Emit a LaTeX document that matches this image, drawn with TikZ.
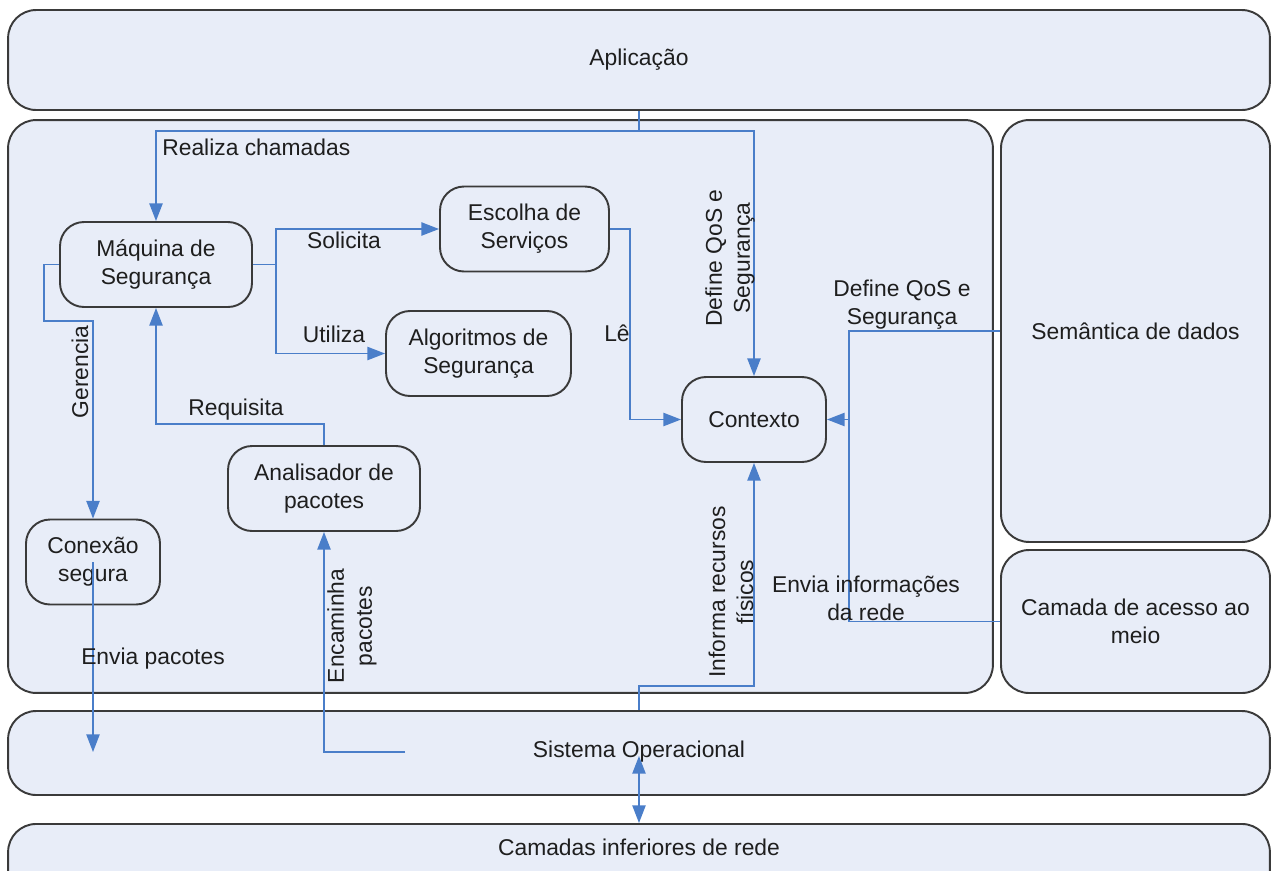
\documentclass[tikz,border=0pt]{standalone}
\usepackage{fontspec}
\setmainfont{Liberation Sans}
\usepackage{tikz}
\usetikzlibrary{arrows.meta,positioning,calc}
\definecolor{pfill}{HTML}{E8EDF8}
\definecolor{pline}{HTML}{3A3A3A}
\definecolor{pblued}{HTML}{4A7EC9}
\definecolor{ptext}{HTML}{1E1E1E}
\tikzset{
  % big layer boxes and the rounded process boxes
  layer/.style = {rectangle, rounded corners=0.56cm, draw=pline, fill=pfill, line width=1.1pt,
                  align=center, inner sep=0pt, text=ptext},
  proc/.style  = {rectangle, rounded corners=0.48cm, draw=pline, fill=pfill, line width=1.1pt,
                  align=center, inner sep=0pt, text=ptext, minimum height=1.7cm},
  flow/.style  = {pblued, line width=0.9pt},
  arr/.style   = {-{Triangle[length=10pt, width=7.5pt]}, pblued, line width=0.9pt},
  biarr/.style = {{Triangle[length=10pt, width=7.5pt]}-{Triangle[length=10pt, width=7.5pt]},
                  pblued, line width=0.9pt},
  lbl/.style   = {text=ptext, align=center, inner sep=0pt},
}

\begin{document}
\begin{tikzpicture}[x=0.02cm, y=-0.02cm, font=\fontsize{13}{16}\selectfont]
\useasboundingbox (0,0) rectangle (1276,870);
% layers
\node[layer, minimum width=25.24cm, minimum height=2cm] (apl) at (639,60) {Aplicação};
\node[layer, minimum width=19.7cm, minimum height=11.46cm] (mid) at (500.5,406.5) {};
\node[layer, minimum width=5.38cm, minimum height=8.44cm] (sem) at (1135.5,331) {Semântica de dados};
\node[layer, minimum width=5.38cm, minimum height=2.86cm] (cam) at (1135.5,621.5) {Camada de acesso ao\\meio};
\node[layer, minimum width=25.24cm, minimum height=1.68cm] (os) at (639,753) {};
\node[lbl] (ostxt) at (639,752) {Sistema Operacional};
\node[layer, minimum width=25.24cm, minimum height=2cm, anchor=north] (inf) at (639,823) {};
\node[lbl] (inftxt) at (639,847) {Camadas inferiores de rede};
% process boxes
\node[proc, minimum width=3.84cm] (maq) at (156,264.5) {Máquina de\\Segurança};
\node[proc, minimum width=3.38cm] (esc) at (524.5,229) {Escolha de\\Serviços};
\node[proc, minimum width=3.7cm] (alg) at (478.5,353.5) {Algoritmos de\\Segurança};
\node[proc, minimum width=2.88cm] (ctx) at (754,419.5) {Contexto};
\node[proc, minimum width=3.84cm] (ana) at (324,488.5) {Analisador de\\pacotes};
\node[proc, minimum width=2.68cm] (con) at (93,562) {Conexão\\segura};
% joints
\coordinate (jA) at (639,131);
\coordinate (jS) at (276,264.5);
\coordinate (jG) at (44,321);
\coordinate (jR) at (156,424);
\coordinate (jE) at (405,752);
\coordinate (jP) at (93,752);
\coordinate (jL) at (630,300);
\coordinate (jD) at (849,419.5);
\coordinate (jI) at (639,686);
\coordinate (jO) at (639,756);
% connectors
\draw[flow] (apl.south) -- (jA);
\draw[arr] (jA) -| (maq.north);
\draw[arr] (jA) -| (ctx.north);
\draw[flow] (maq.east) -- (jS);
\draw[arr] (jS) |- (esc.west);
\draw[arr] (jS) |- (alg.west);
\draw[arr] (maq.west) -| (jG) -| (con.north);
\draw[arr] (ana.north) |- (jR) -- (maq.south);
\draw[arr] (jE) -| (ana.south);
\draw[arr] (con.center) -- (jP);
\draw[arr] (esc.east) -| (jL) |- (ctx.west);
\draw[flow] (sem.west) -| (jD);
\draw[flow] (cam.west) -| (jD);
\draw[arr] (jD) -- (ctx.east);
\draw[arr] (os.north) -- (jI) -| (ctx.south);
\draw[biarr] (jO) -- (inf.north);
% labels
\node[lbl, anchor=west] (lreal) at (162,147) {Realiza chamadas};
\node[lbl, rotate=90] (ldef1) at (730,258) {Define QoS e\\Segurança};
\node[lbl] (lsol) at (344,240) {Solicita};
\node[lbl] (luti) at (334,334) {Utiliza};
\node[lbl, rotate=90] (lger) at (80,372) {Gerencia};
\node[lbl] (lreq) at (236,410) {Requisita};
\node[lbl, rotate=90] (lenc) at (352,626) {Encaminha\\pacotes};
\node[lbl] (lenv) at (153,659) {Envia pacotes};
\node[lbl] (lle) at (617,333) {Lê};
\node[lbl] (ldef2) at (902,305) {Define QoS e\\Segurança};
\node[lbl] (lrede) at (866,598) {Envia informações\\da rede};
\node[lbl, rotate=90] (linf) at (731,592) {Informa recursos\\físicos};
\end{tikzpicture}
\end{document}
